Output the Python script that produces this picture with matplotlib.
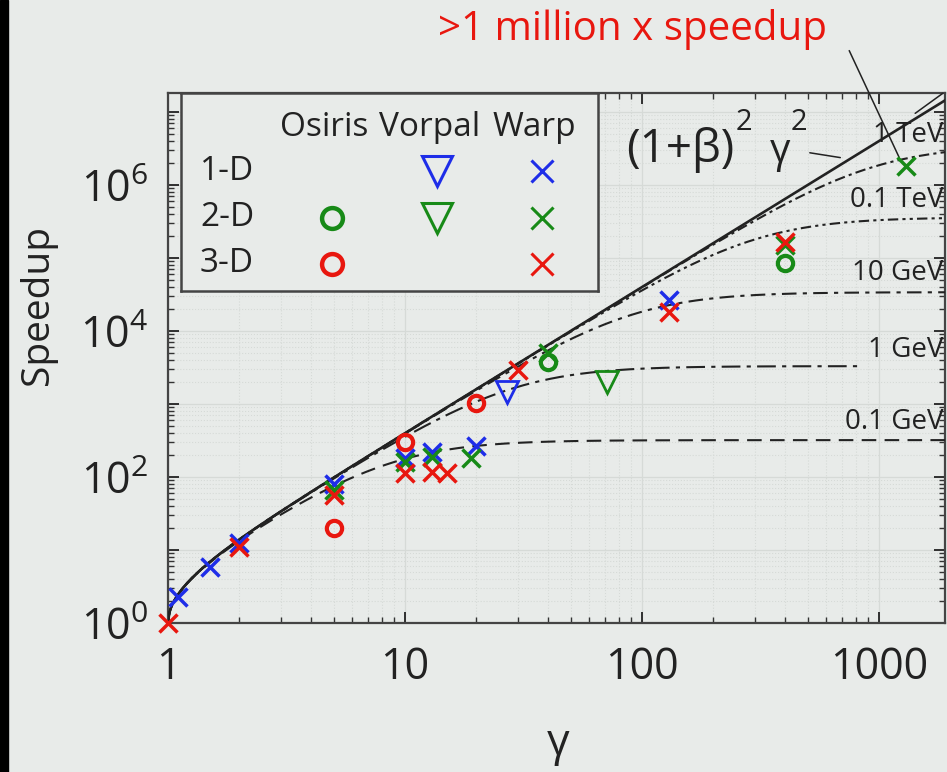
import numpy as np
import matplotlib
matplotlib.use("Agg")
import matplotlib.pyplot as plt
from matplotlib import ticker
from matplotlib.patches import Rectangle

plt.rcParams['font.family'] = ['Open Sans', 'DejaVu Sans']
plt.rcParams['mathtext.fontset'] = 'custom'
plt.rcParams['mathtext.rm'] = 'Open Sans'
plt.rcParams['mathtext.it'] = 'Open Sans:italic'

BG = '#e8ebe9'
RED = '#e8170f'
GREEN = '#178a17'
BLUE = '#1e2de8'
INK = '#222222'

# simulation points (gamma of boosted frame, measured speedup)
warp_1d_g = [1.1, 1.5, 2, 5, 10, 13, 20, 130]
warp_1d_s = [2.3, 5.8, 12.5, 80, 180, 220, 265, 27000]
warp_2d_g = [5, 10, 13, 19, 40, 400, 1300]
warp_2d_s = [66, 160, 188, 180, 5000, 150000, 1.8e6]
warp_3d_g = [1, 2, 5, 10, 13, 15, 30, 130, 400]
warp_3d_s = [1, 11, 57, 113, 117, 113, 2900, 18000, 163000]
vorpal_1d_g = [27]
vorpal_1d_s = [1450]
vorpal_2d_g = [71]
vorpal_2d_s = [2000]
osiris_2d_g = [40, 400]
osiris_2d_s = [3800, 85000]
osiris_3d_g = [5, 10, 20]
osiris_3d_s = [20, 300, 1030]

# saturation curves for each stage energy
energy_labels = ['0.1 GeV', '1 GeV', '10 GeV', '0.1 TeV', '1 TeV']
energy_smax = [320, 3300, 34000, 360000, 3.5e6]
energy_gmax = [1900, 850, 1900, 1900, 1900]
energy_styles = [(0, (7, 4)), (0, (9, 3, 2, 3)), (0, (7, 3, 2, 3)),
                 (0, (5, 2, 1.5, 2, 1.5, 2)), (0, (5, 2, 1.5, 2))]
label_y = [566, 5500, 62000, 620000, 4.8e6]

fig = plt.figure(figsize=(9.47, 7.72), dpi=100, facecolor=BG)
fig.add_artist(Rectangle((0, 0), 8 / 947, 1, transform=fig.transFigure,
                         color='black', zorder=10))
ax = fig.add_axes([168 / 947, 149 / 772, 777 / 947, 530 / 772], facecolor=BG)
ax.set_xscale('log')
ax.set_yscale('log')
ax.set_xlim(1, 1898)
ax.set_ylim(1, 1.82e7)

g = np.logspace(0, np.log10(1900), 600)
beta = np.sqrt(1 - 1 / g**2)
full = (1 + beta)**2 * g**2
ax.plot(g, full, color=INK, lw=1.9, zorder=3)
for smax, gmax, ls in zip(energy_smax, energy_gmax, energy_styles):
    m = g <= gmax
    ax.plot(g[m], 1 / (1 / full[m] + 1 / smax), color=INK, lw=1.5, ls=ls, zorder=3)

ytr = ax.get_yaxis_transform()
for lab, yv in zip(energy_labels, label_y):
    ax.text(0.998, yv, lab, transform=ytr, ha='right', va='center', fontsize=20, color=INK)

# (1+beta)^2 gamma^2 label, built from pieces
for txt, xf, yf, fs in [('(1+β)', 0.590, 0.870, 33), ('2', 0.731, 0.930, 21),
                        ('γ', 0.774, 0.870, 29), ('2', 0.801, 0.930, 21)]:
    ax.text(xf, yf, txt, transform=ax.transAxes, ha='left', va='baseline',
            fontsize=fs, color=INK)

# leader lines
ax.annotate('', xy=(705, 2.34e6), xytext=(497, 2.8e6),
            arrowprops=dict(arrowstyle='-', color=INK, lw=1.1), annotation_clip=False)
ax.annotate('', xy=(1230, 2.2e6), xytext=(740, 7.5e7),
            arrowprops=dict(arrowstyle='-', color=INK, lw=1.1), annotation_clip=False)
ax.annotate('', xy=(1900, 1.9e7), xytext=(1390, 9.1e6),
            arrowprops=dict(arrowstyle='-', color=INK, lw=1.1), annotation_clip=False)

# points
ax.plot(osiris_2d_g, osiris_2d_s, ls='none', marker='o', ms=11, mew=3, mfc='none', mec=GREEN, zorder=4)
ax.plot(osiris_3d_g, osiris_3d_s, ls='none', marker='o', ms=11, mew=3, mfc='none', mec=RED, zorder=4)
ax.plot(vorpal_1d_g, vorpal_1d_s, ls='none', marker='v', ms=16, mew=2, mfc='none', mec=BLUE, zorder=4)
ax.plot(vorpal_2d_g, vorpal_2d_s, ls='none', marker='v', ms=16, mew=2, mfc='none', mec=GREEN, zorder=4)
ax.plot(warp_1d_g, warp_1d_s, ls='none', marker='x', ms=13, mew=2.5, color=BLUE, zorder=5, clip_on=False)
ax.plot(warp_2d_g, warp_2d_s, ls='none', marker='x', ms=13, mew=2.5, color=GREEN, zorder=5, clip_on=False)
ax.plot(warp_3d_g, warp_3d_s, ls='none', marker='x', ms=13, mew=2.5, color=RED, zorder=5, clip_on=False)

# axes styling
for sp in ax.spines.values():
    sp.set_color('#444444')
    sp.set_linewidth(1.6)
ax.xaxis.set_major_locator(ticker.FixedLocator([1, 10, 100, 1000]))
ax.xaxis.set_major_formatter(ticker.FuncFormatter(lambda v, p: f'{int(v)}'))
ax.xaxis.set_minor_locator(ticker.LogLocator(base=10, subs=np.arange(2, 10), numticks=20))
ax.xaxis.set_minor_formatter(ticker.NullFormatter())
ax.yaxis.set_major_locator(ticker.LogLocator(base=10, numticks=20))
ax.yaxis.set_major_formatter(ticker.FuncFormatter(
    lambda v, p: (r'$\mathregular{10^{%d}}$' % round(np.log10(v))) if round(np.log10(v)) % 2 == 0 else ''))
ax.yaxis.set_minor_locator(ticker.LogLocator(base=10, subs=np.arange(2, 10), numticks=20))
ax.yaxis.set_minor_formatter(ticker.NullFormatter())
ax.tick_params(which='both', direction='in', top=True, right=True, color='#333333')
ax.tick_params(which='major', length=8, width=1.3, labelsize=31, colors=INK)
ax.tick_params(which='minor', length=4, width=1.0)
ax.tick_params(axis='x', which='major', pad=16)
ax.tick_params(axis='y', which='major', pad=14)
ax.grid(which='major', color='#d6dad7', lw=0.9)
ax.grid(which='minor', color='#d6dad7', lw=0.8, ls=':')
ax.set_axisbelow(True)

fig.text(0.040, 0.605, 'Speedup', rotation=90, ha='center', va='center', fontsize=28, color=INK)
fig.text(0.589, 0.036, 'γ', ha='center', va='center', fontsize=32, color=INK)
fig.text(0.668, 0.962, '>1 million x speedup', ha='center', va='center', fontsize=29, color=RED)

# table-style legend
legend_codes = ['Osiris', 'Vorpal', 'Warp']
legend_dims = ['1-D', '2-D', '3-D']
legend_marks = {('Osiris', '2-D'): ('o', GREEN), ('Osiris', '3-D'): ('o', RED),
                ('Vorpal', '1-D'): ('v', BLUE), ('Vorpal', '2-D'): ('v', GREEN),
                ('Warp', '1-D'): ('x', BLUE), ('Warp', '2-D'): ('x', GREEN),
                ('Warp', '3-D'): ('x', RED)}
lax = fig.add_axes([181 / 947, 1 - 291 / 772, 417 / 947, 198 / 772], facecolor=BG, zorder=6)
lax.set_xlim(-0.438, 3.533)
lax.set_ylim(3.585, -0.69)
lax.set_xticks([])
lax.set_yticks([])
for sp in lax.spines.values():
    sp.set_color('#444444')
    sp.set_linewidth(1.8)
for c, code in enumerate(legend_codes, start=1):
    lax.text(c - 0.07, 0.05, code, ha='center', va='center', fontsize=24, color=INK)
for r, dim in enumerate(legend_dims, start=1):
    lax.text(0, r, dim, ha='center', va='center', fontsize=24, color=INK)
    for c, code in enumerate(legend_codes, start=1):
        if (code, dim) in legend_marks:
            mk, col = legend_marks[(code, dim)]
            if mk == 'o':
                lax.plot(c, r, marker='o', ms=15, mew=3.2, mfc='none', mec=col)
            elif mk == 'v':
                lax.plot(c, r, marker='v', ms=21, mew=2.2, mfc='none', mec=col)
            else:
                lax.plot(c, r, marker='x', ms=16, mew=2.2, color=col)

fig.savefig('out.png', dpi=100, facecolor=BG)
